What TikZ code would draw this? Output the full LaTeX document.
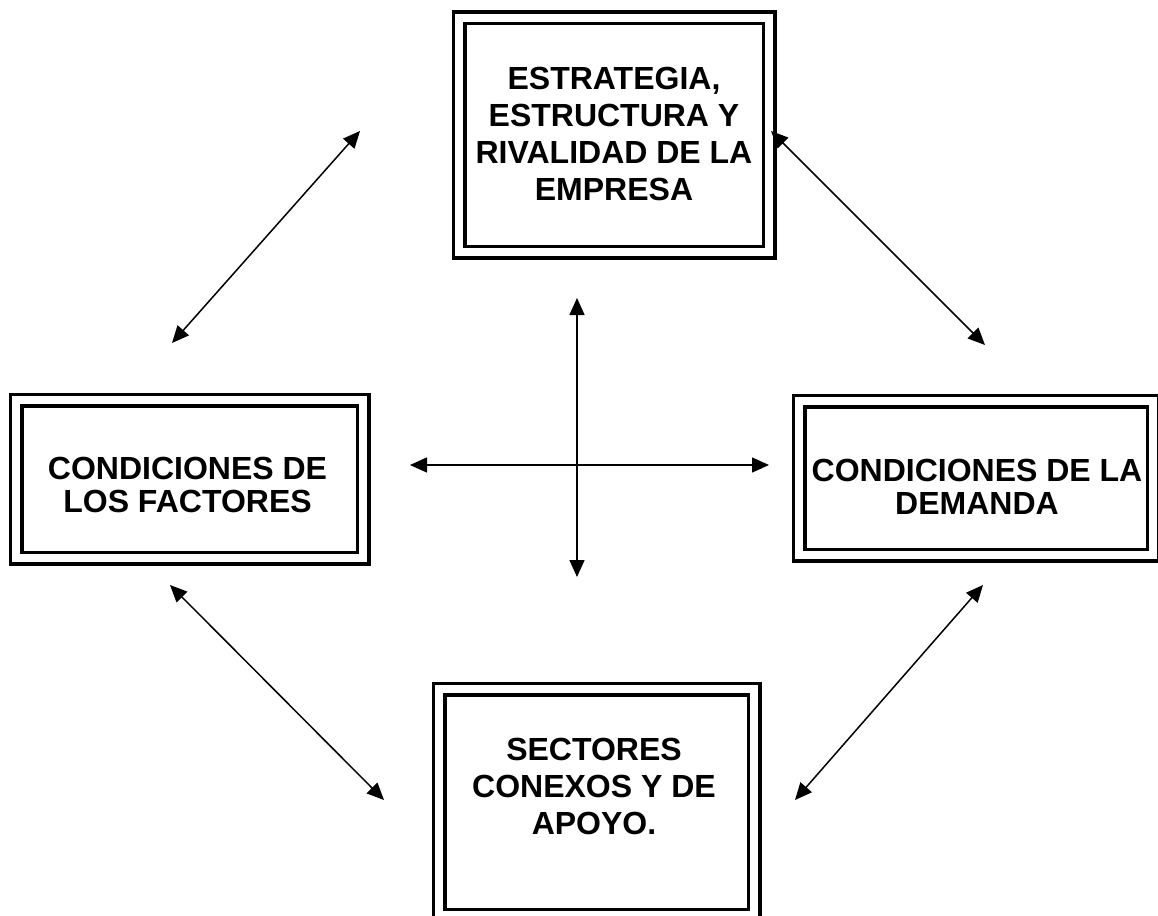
\documentclass[tikz,border=0pt]{standalone}
\usepackage{fontspec}
\setmainfont{Liberation Sans}
\usetikzlibrary{arrows.meta}

\tikzset{
	marco/.style = { draw, line width = 3.2pt, double, double distance = 8.6pt, inner sep = 0pt },
	rotulo/.style = { align = center, font = \bfseries\fontsize{32}{37}\selectfont },
	rotulobajo/.style = { align = center, font = \bfseries\fontsize{32}{33}\selectfont },
	flecha/.style = { line width = 1.5pt, {Triangle[length=17pt,width=15pt]}-{Triangle[length=17pt,width=15pt]} }
}

\begin{document}
\begin{tikzpicture}[x=1pt, y=-1pt]
		\clip ( 0, 0 ) rectangle ( 1158, 915 );
		\fill [ white ] ( 0, 0 ) rectangle ( 1158, 915 );

		% estrategia
		\node [ marco, minimum width = 310, minimum height = 234 ] (estr) at ( 614, 135 ) {};
		\node [ rotulo ] (estr-t) at ( 614, 134 ) {ESTRATEGIA,\\ESTRUCTURA Y\\RIVALIDAD DE LA\\EMPRESA};

		% factores
		\node [ marco, minimum width = 347, minimum height = 158 ] (fact) at ( 189.5, 479 ) {};
		\node [ rotulobajo ] (fact-t) at ( 187.5, 485 ) {CONDICIONES DE\\LOS FACTORES};

		% demanda
		\node [ marco, minimum width = 354, minimum height = 154 ] (dem) at ( 976, 478 ) {};
		\node [ rotulobajo ] (dem-t) at ( 977, 487 ) {CONDICIONES DE LA\\DEMANDA};

		% sectores
		\node [ marco, minimum width = 315, minimum height = 226 ] (sect) at ( 596.5, 802 ) {};
		\node [ rotulo ] (sect-t) at ( 594, 786 ) {SECTORES\\CONEXOS Y DE\\APOYO.};

		% extremos de las flechas
		\coordinate (a1) at ( 172, 343 );
		\coordinate (a2) at ( 360, 131 );
		\coordinate (b1) at ( 771, 131 );
		\coordinate (b2) at ( 985, 345 );
		\coordinate (c1) at ( 577, 298 );
		\coordinate (c2) at ( 577, 577 );
		\coordinate (d1) at ( 410, 465 );
		\coordinate (d2) at ( 769, 465 );
		\coordinate (e1) at ( 170, 585 );
		\coordinate (e2) at ( 384, 800 );
		\coordinate (f1) at ( 983, 585 );
		\coordinate (f2) at ( 795, 800 );

		% flechas
		\draw [ flecha ] (a1) -- (a2);
		\draw [ flecha ] (b1) -- (b2);
		\draw [ flecha ] (c1) -- (c2);
		\draw [ flecha ] (d1) -- (d2);
		\draw [ flecha ] (e1) -- (e2);
		\draw [ flecha ] (f1) -- (f2);
	\end{tikzpicture}
\end{document}
